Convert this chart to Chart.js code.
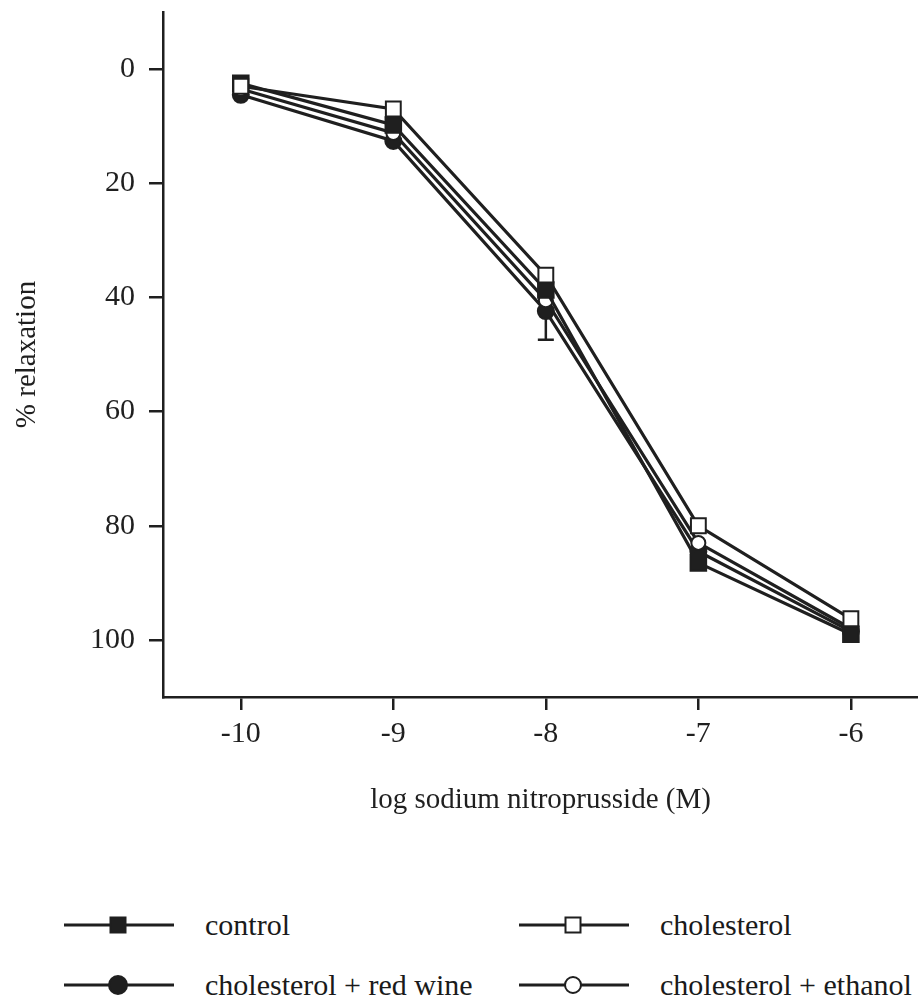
<!DOCTYPE html>
<html lang="en">
<head>
    <meta charset="UTF-8">
    <title>% relaxation vs log sodium nitroprusside</title>
    <script src="https://cdn.jsdelivr.net/npm/chart.js"></script>
    <style>
        body {
            margin: 0;
            background: #fff;
            font-family: 'Liberation Serif', 'DejaVu Serif', serif;
            color: #1a1a1a;
        }
        .wrap {
            position: relative;
            width: 918px;
            height: 1004px;
            overflow: hidden;
        }
        .chart-box {
            position: absolute;
            left: 0;
            top: 0;
            width: 918px;
            height: 822px;
        }
        .legend-item {
            position: absolute;
            display: flex;
            align-items: center;
            white-space: nowrap;
            font-size: 30px;
            height: 40px;
        }
        .legend-item svg {
            margin-right: 30px;
        }
    </style>
</head>
<body>
<div class="wrap">
    <div class="chart-box"><canvas id="chart"></canvas></div>
    <div id="legend"></div>
</div>

<script>
    // values
    const xValues = [-10, -9, -8, -7, -6];
    const controlY = [2.5, 9.8, 38.7, 86.5, 99.0];
    const cholesterolY = [3.0, 7.0, 36.1, 80.0, 96.3];
    const redWineY = [4.5, 12.6, 42.4, 84.5, 98.5];
    const ethanolY = [3.5, 11.2, 40.5, 83.0, 98.0];
    const redWineErr = [0, 0, 5, 0, 0];
    const xTicks = [-10, -9, -8, -7, -6];
    const yTicks = [0, 20, 40, 60, 80, 100];

    const ink = '#1f1f1f';

    const series = [
        { label: 'control', values: controlY, style: 'rect', filled: true, radius: 11, order: 1 },
        { label: 'cholesterol', values: cholesterolY, style: 'rect', filled: false, radius: 10.5, order: 0 },
        { label: 'cholesterol + red wine', values: redWineY, style: 'circle', filled: true, radius: 8, order: 3, err: redWineErr },
        { label: 'cholesterol + ethanol', values: ethanolY, style: 'circle', filled: false, radius: 7, order: 2 }
    ];

    const toPoints = arr => xValues.map((x, i) => ({ x: x, y: arr[i] }));

    const errorBars = {
        id: 'errorBars',
        beforeDatasetsDraw(chart) {
            const ctx = chart.ctx;
            const xs = chart.scales.x;
            const ys = chart.scales.y;
            ctx.save();
            ctx.strokeStyle = ink;
            ctx.lineWidth = 2.5;
            series.forEach(s => {
                if (!s.err) return;
                s.err.forEach((e, i) => {
                    if (!e) return;
                    const px = xs.getPixelForValue(xValues[i]);
                    const top = ys.getPixelForValue(s.values[i] - e);
                    const bot = ys.getPixelForValue(s.values[i] + e);
                    ctx.beginPath();
                    ctx.moveTo(px, top);
                    ctx.lineTo(px, bot);
                    ctx.moveTo(px - 8, top);
                    ctx.lineTo(px + 8, top);
                    ctx.moveTo(px - 8, bot);
                    ctx.lineTo(px + 8, bot);
                    ctx.stroke();
                });
            });
            ctx.restore();
        }
    };

    // drop the extra room Chart.js keeps for edge labels
    const noEdgePad = scale => {
        scale.paddingTop = 0;
        scale.paddingBottom = 0;
        scale.paddingLeft = 0;
        scale.paddingRight = 0;
    };

    const tickFont = { family: "'Liberation Serif', serif", size: 30 };

    new Chart(document.getElementById('chart'), {
        type: 'line',
        data: {
            datasets: series.map(s => ({
                label: s.label,
                data: toPoints(s.values),
                borderColor: ink,
                borderWidth: 3.2,
                pointStyle: s.style,
                pointRadius: s.radius,
                pointBorderWidth: 2,
                pointBorderColor: ink,
                pointBackgroundColor: s.filled ? ink : '#fff',
                tension: 0,
                fill: false,
                order: s.order
            }))
        },
        options: {
            responsive: true,
            maintainAspectRatio: false,
            animation: false,
            layout: { autoPadding: false, padding: { top: 12, right: 0, left: 0, bottom: 0 } },
            plugins: {
                legend: { display: false },
                tooltip: { enabled: false }
            },
            scales: {
                x: {
                    type: 'linear',
                    min: -10.51,
                    max: -5.56,
                    afterBuildTicks: scale => { scale.ticks = xTicks.map(v => ({ value: v })); },
                    afterFit: scale => { scale.height = 125; noEdgePad(scale); },
                    grid: { drawOnChartArea: false, drawTicks: true, tickLength: 13, color: ink, lineWidth: 2.5 },
                    border: { display: true, color: ink, width: 2.5 },
                    ticks: { color: ink, font: tickFont, padding: 6, maxRotation: 0 },
                    title: {
                        display: true,
                        text: 'log sodium nitroprusside (M)',
                        color: ink,
                        font: { family: "'Liberation Serif', serif", size: 29 },
                        padding: { top: 0, bottom: 4 }
                    }
                },
                y: {
                    type: 'linear',
                    reverse: true,
                    min: -10,
                    max: 110,
                    afterBuildTicks: scale => { scale.ticks = yTicks.map(v => ({ value: v })); },
                    afterFit: scale => { scale.width = 163; noEdgePad(scale); },
                    grid: { drawOnChartArea: false, drawTicks: true, tickLength: 14, color: ink, lineWidth: 2.5 },
                    border: { display: true, color: ink, width: 2.5 },
                    ticks: { color: ink, font: tickFont, padding: 14 },
                    title: {
                        display: true,
                        text: '% relaxation',
                        color: ink,
                        font: { family: "'Liberation Serif', serif", size: 29 },
                        padding: { top: 10, bottom: 0 }
                    }
                }
            }
        },
        plugins: [errorBars]
    });

    // legend below the chart, two columns
    const legendPos = [
        { left: 63, top: 905 },
        { left: 518, top: 905 },
        { left: 63, top: 965 },
        { left: 518, top: 965 }
    ];
    const legend = document.getElementById('legend');
    series.forEach((s, k) => {
        const fill = s.filled ? ink : '#fff';
        let marker;
        if (s.style === 'rect') {
            const side = 15;
            marker = '<rect x="' + (55 - side / 2) + '" y="' + (20 - side / 2) + '" width="' + side + '" height="' + side + '" fill="' + fill + '" stroke="' + ink + '" stroke-width="2"/>';
        } else {
            marker = '<circle cx="55" cy="20" r="' + (s.filled ? 9 : 8) + '" fill="' + fill + '" stroke="' + ink + '" stroke-width="2"/>';
        }
        const div = document.createElement('div');
        div.className = 'legend-item';
        div.style.left = legendPos[k].left + 'px';
        div.style.top = legendPos[k].top + 'px';
        div.innerHTML = '<svg width="112" height="40"><line x1="1" y1="20" x2="111" y2="20" stroke="' + ink + '" stroke-width="3"/>' + marker + '</svg><span>' + s.label + '</span>';
        legend.appendChild(div);
    });
</script>
</body>
</html>
